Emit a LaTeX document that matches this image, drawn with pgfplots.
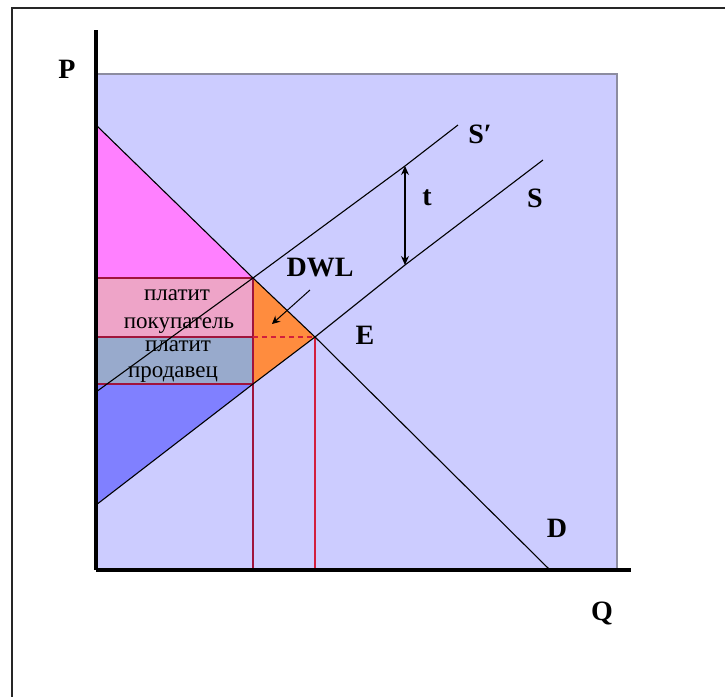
\documentclass[border=0pt]{standalone}
\usepackage{fontspec}
\setmainfont{Liberation Serif}
\usepackage{pgfplots}
\pgfplotsset{compat=1.18}
\usetikzlibrary{arrows.meta}

\definecolor{bgfill}{RGB}{204,204,255}
\definecolor{bgedge}{RGB}{140,140,160}
\definecolor{cons}{RGB}{255,128,255}
\definecolor{buyer}{RGB}{238,164,200}
\definecolor{seller}{RGB}{152,170,204}
\definecolor{prod}{RGB}{128,128,255}
\definecolor{dwl}{RGB}{255,140,62}
\definecolor{maroon}{RGB}{160,20,60}
\definecolor{redline}{RGB}{210,30,60}

\tikzset{
  lbl/.style={font=\fontsize{14}{14}\selectfont\bfseries, inner sep=0pt},
  ru/.style={font=\fontsize{11.5}{11.5}\selectfont, inner sep=0pt, anchor=base,
             text height=0.48em, text depth=0.2em},
}

\begin{document}
\begin{tikzpicture}
\useasboundingbox (-48pt,-63.5pt) rectangle (314.5pt,285pt);
\begin{axis}[
    at={(0,0)}, anchor=south west,
    scale only axis,
    width=267.5pt, height=270pt,
    xmin=0, xmax=535, ymin=0, ymax=540,
    axis lines=left,
    axis line style={-, line width=1.6pt, black},
    xtick=\empty, ytick=\empty,
    clip=false,
    axis on top,
  ]
  % background panel
  \addplot[fill=bgfill, draw=none] coordinates {(0,0) (521,0) (521,496) (0,496)} -- cycle;
  \addplot[bgedge, line width=1pt] coordinates {(0,496) (521,496) (521,0)};

  % surplus areas
  \addplot[fill=cons, draw=none] coordinates {(0,445) (157,292) (0,292)} -- cycle;
  \addplot[fill=buyer, draw=none] coordinates {(0,292) (157,292) (157,233) (0,233)} -- cycle;
  \addplot[fill=seller, draw=none] coordinates {(0,233) (157,233) (157,186) (0,186)} -- cycle;
  \addplot[fill=prod, draw=none] coordinates {(0,65) (157,186) (0,186)} -- cycle;
  \addplot[fill=dwl, draw=none] coordinates {(157,292) (219,233) (157,186)} -- cycle;

  % tax lines
  \addplot[maroon, line width=0.8pt] coordinates {(0,292) (157,292)};
  \addplot[maroon, line width=0.8pt] coordinates {(0,233) (157,233)};
  \addplot[maroon, line width=0.8pt] coordinates {(0,186) (157,186)};
  \addplot[maroon, line width=0.8pt] coordinates {(157,292) (157,0)};
  \addplot[redline, line width=0.8pt] coordinates {(219,233) (219,0)};
  \addplot[redline, line width=0.8pt, dash pattern=on 2.5pt off 2pt] coordinates {(157,233) (219,233)};

  % demand and supply
  \addplot[black, line width=0.55pt] coordinates {(0,445) (157,292) (219,233) (454,0)};
  \addplot[black, line width=0.55pt] coordinates {(0,65) (157,186) (219,233) (309,305) (447,410)};
  \addplot[black, line width=0.55pt] coordinates {(0,178) (157,292) (309,404) (362,445)};

  % tax arrow and DWL pointer
  \addplot[black, line width=0.6pt, {Stealth[length=4.5pt,width=4pt]}-{Stealth[length=4.5pt,width=4pt]}]
    coordinates {(309,404) (309,305)};
  \addplot[black, line width=0.5pt, -{Stealth[length=4pt,width=4pt]}]
    coordinates {(214,280) (176,246)};

  % labels
  \node[lbl] at (axis cs:-29,501) {P};
  \node[lbl] at (axis cs:506,-43) {Q};
  \node[lbl] at (axis cs:461,42) {D};
  \node[lbl] at (axis cs:439,372) {S};
  \node[lbl] at (axis cs:384,436) {S′};
  \node[lbl] at (axis cs:331,372) {t};
  \node[lbl] at (axis cs:269,235) {E};
  \node[lbl] at (axis cs:224,302) {DWL};
  \node[ru] at (axis cs:81,270) {платит};
  \node[ru] at (axis cs:83,242) {покупатель};
  \node[ru] at (axis cs:82,219) {платит};
  \node[ru] at (axis cs:77,192) {продавец};

  % outer frame
  \draw[black!85, line width=1pt] (axis cs:-84,-140) -- (axis cs:-84,562) -- (axis cs:650,562);
\end{axis}
\end{tikzpicture}
\end{document}
